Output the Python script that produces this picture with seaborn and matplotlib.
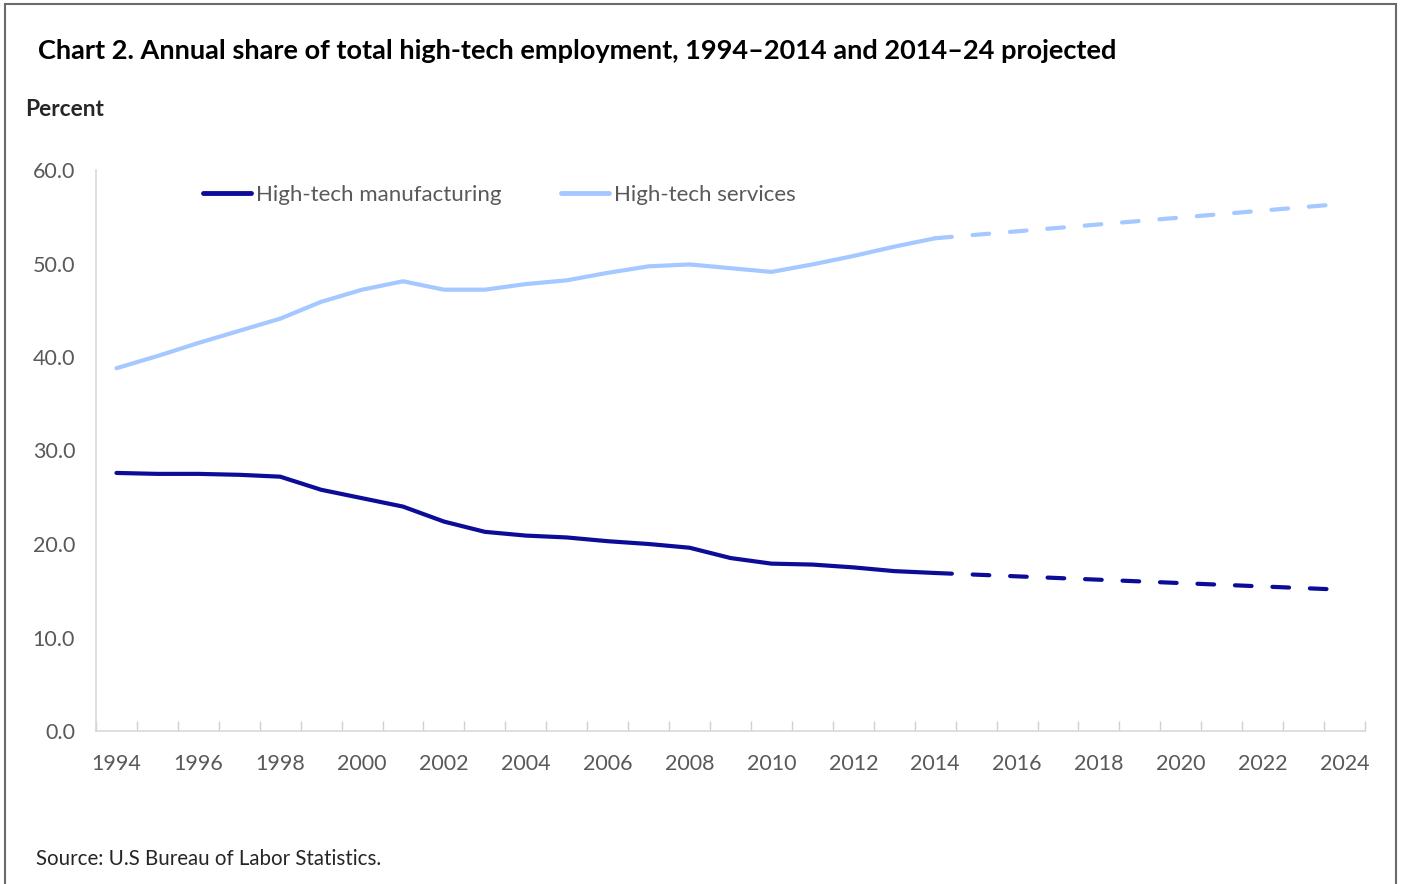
import numpy as np
import pandas as pd
import matplotlib
matplotlib.use("Agg")
import matplotlib.pyplot as plt
from matplotlib.lines import Line2D
from matplotlib.patches import Rectangle
import seaborn as sns

# data
years = list(range(1994, 2015))
manufacturing = [27.6, 27.5, 27.5, 27.4, 27.2, 25.8, 24.9, 24.0, 22.4, 21.3,
                 20.9, 20.7, 20.3, 20.0, 19.6, 18.5, 17.9, 17.8, 17.5, 17.1, 16.9]
services = [38.8, 40.1, 41.5, 42.8, 44.1, 45.9, 47.2, 48.1, 47.2, 47.2,
            47.8, 48.2, 49.0, 49.7, 49.9, 49.5, 49.1, 49.9, 50.8, 51.8, 52.7]
proj_years = [2014, 2024]
manufacturing_proj = [16.9, 15.1]
services_proj = [52.7, 56.4]

dark = "#0c0c99"
light = "#a4c8ff"
grey = "#595959"

sns.set_theme(style="white")
plt.rcParams['font.family'] = ['Lato', 'DejaVu Sans']

df = pd.DataFrame({'Year': years, 'mfg': manufacturing, 'svc': services})
dfp = pd.DataFrame({'Year': proj_years, 'mfg': manufacturing_proj, 'svc': services_proj})

fig = plt.figure(figsize=(14.02, 8.84), dpi=100)
ax = fig.add_axes([96/1402, 1-731/884, (1365-96)/1402, (731-170)/884])

sns.lineplot(data=df, x='Year', y='mfg', color=dark, lw=3, ax=ax, solid_capstyle='round')
sns.lineplot(data=df, x='Year', y='svc', color=light, lw=3, ax=ax, solid_capstyle='round')
sns.lineplot(data=dfp, x='Year', y='mfg', color=dark, lw=3, ax=ax,
             dashes=False, linestyle=(0, (4, 5)), dash_capstyle='round')
sns.lineplot(data=dfp, x='Year', y='svc', color=light, lw=3, ax=ax,
             dashes=False, linestyle=(0, (4, 5)), dash_capstyle='round')

ax.set_xlim(1993.5, 2024.5)
ax.set_ylim(0, 60)
ax.set_xlabel('')
ax.set_ylabel('')
ax.set_xticks(range(1994, 2025, 2))
ax.set_xticks(np.arange(1993.5, 2025, 1), minor=True)
ax.set_yticks(range(0, 61, 10))
ax.set_yticklabels([f"{v:.1f}" for v in range(0, 61, 10)])
ax.tick_params(axis='x', which='major', length=0, pad=16.5, labelsize=15.5, labelcolor=grey)
ax.tick_params(axis='x', which='minor', direction='in', length=7, width=1, color='#d0d0d0', bottom=True)
ax.tick_params(axis='y', length=0, pad=15, labelsize=15.5, labelcolor=grey)
for s in ['top', 'right']:
    ax.spines[s].set_visible(False)
for s in ['left', 'bottom']:
    ax.spines[s].set_color('#d9d9d9')
    ax.spines[s].set_linewidth(1.2)

handles = [Line2D([], [], color=dark, lw=3.5), Line2D([], [], color=light, lw=3.5)]
leg = ax.legend(handles, ['High-tech manufacturing', 'High-tech services'],
                loc='center left', bbox_to_anchor=((203-96)/1269, (731-195)/561),
                ncol=2, frameon=False, fontsize=16, handlelength=2.16,
                handletextpad=0.22, columnspacing=2.7, borderpad=0, borderaxespad=0)
for t in leg.get_texts():
    t.set_color(grey)

fig.text(38/1402, 1-51/884, 'Chart 2. Annual share of total high-tech employment, 1994\u20132014 and 2014\u201324 projected',
         fontsize=19.5, fontweight='bold', va='center', ha='left', color='black')
fig.text(25/1402, 1-110/884, 'Percent', fontsize=16.4, fontweight='bold', va='center', ha='left')
fig.text(36/1402, 1-859/884, 'Source: U.S Bureau of Labor Statistics.', fontsize=14.8, va='center', ha='left')

fig.patches.append(Rectangle((5/1402, -0.01), (1396-5)/1402, 1-4/884 + 0.01, transform=fig.transFigure,
                             fill=False, edgecolor='#6b6b6b', lw=1.5))

fig.savefig('out.png', dpi=100)
